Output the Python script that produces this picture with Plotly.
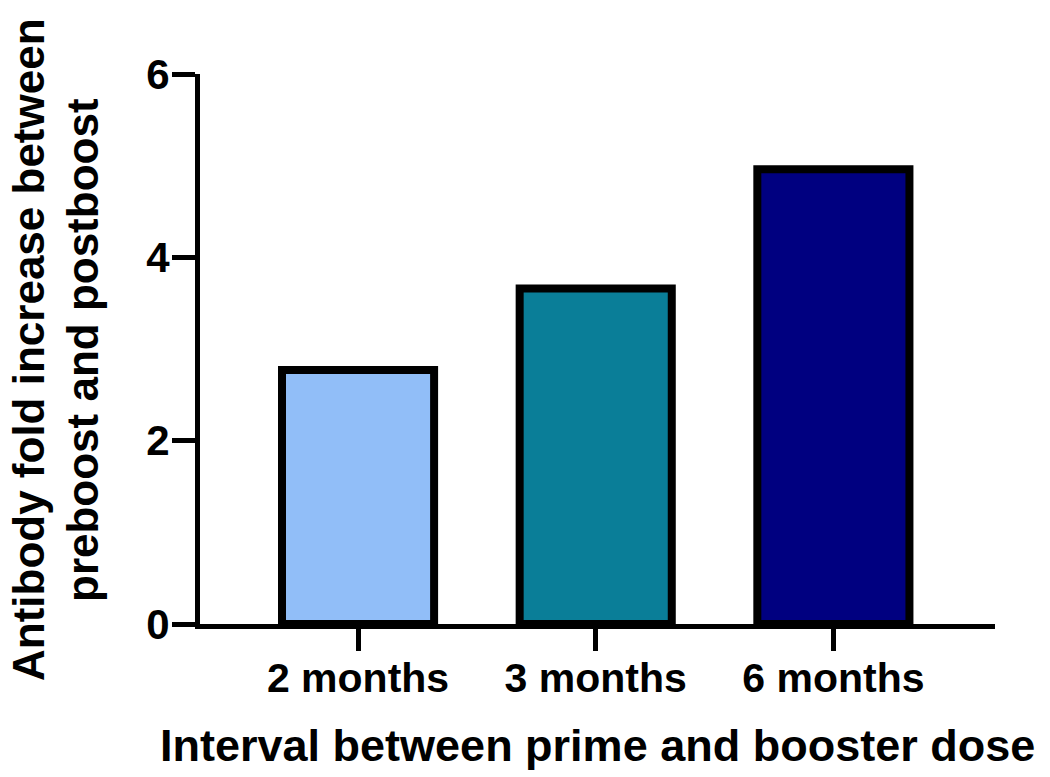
import plotly.graph_objects as go

categories = ["2 months", "3 months", "6 months"]
fold_increase = [2.77, 3.66, 4.96]
bar_colors = ["#91BEF8", "#0A7E98", "#000080"]
y_ticks = [0, 2, 4, 6]
x_title = "Interval between prime and booster dose"
y_title_lines = ["Antibody fold increase between", "preboost and postboost"]

FONT = "Arial, Liberation Sans, sans-serif"
W, H = 1050, 777
L, R, T, B = 200, 55, 74, 153
pw, ph = W - L - R, H - T - B

xpos = list(range(len(categories)))

fig = go.Figure()
fig.add_trace(go.Bar(
    x=xpos, y=fold_increase, width=0.64,
    marker=dict(color=bar_colors, line=dict(color="black", width=8)),
    showlegend=False,
))

fig.update_layout(
    width=W, height=H,
    margin=dict(l=L, r=R, t=T, b=B, pad=0),
    plot_bgcolor="white", paper_bgcolor="white",
    font=dict(family=FONT, color="black"),
    xaxis=dict(
        range=[-0.665, 2.68], tickvals=xpos, ticktext=categories,
        showline=True, linecolor="black", linewidth=5,
        ticks="outside", ticklen=22, tickwidth=5, tickcolor="black",
        showgrid=False, zeroline=False,
        tickfont=dict(family=FONT, size=41, weight="bold"),
        ticklabelstandoff=-8,
    ),
    yaxis=dict(
        range=[0, 6], tickvals=y_ticks,
        showline=True, linecolor="black", linewidth=5,
        ticks="outside", ticklen=23, tickwidth=5, tickcolor="black",
        showgrid=False, zeroline=False,
        tickfont=dict(family=FONT, size=42, weight="bold"),
        ticklabelstandoff=-6,
    ),
)

fig.add_annotation(
    text=x_title, xref="paper", yref="paper",
    x=0.5, y=-(745 - (T + ph)) / ph,
    xanchor="center", yanchor="middle", showarrow=False,
    font=dict(family=FONT, size=45, weight="bold", color="black"),
)

for cx, line in zip([28, 82], y_title_lines):
    fig.add_annotation(
        text=line, xref="paper", yref="paper",
        x=(cx - L) / pw, y=1 - (350 - T) / ph,
        xanchor="center", yanchor="middle", textangle=-90, showarrow=False,
        font=dict(family=FONT, size=44, weight="bold", color="black"),
        borderpad=0,
    )

fig.write_html("out.html", config={"displayModeBar": False},
               post_script="document.body.style.margin='0px';")
